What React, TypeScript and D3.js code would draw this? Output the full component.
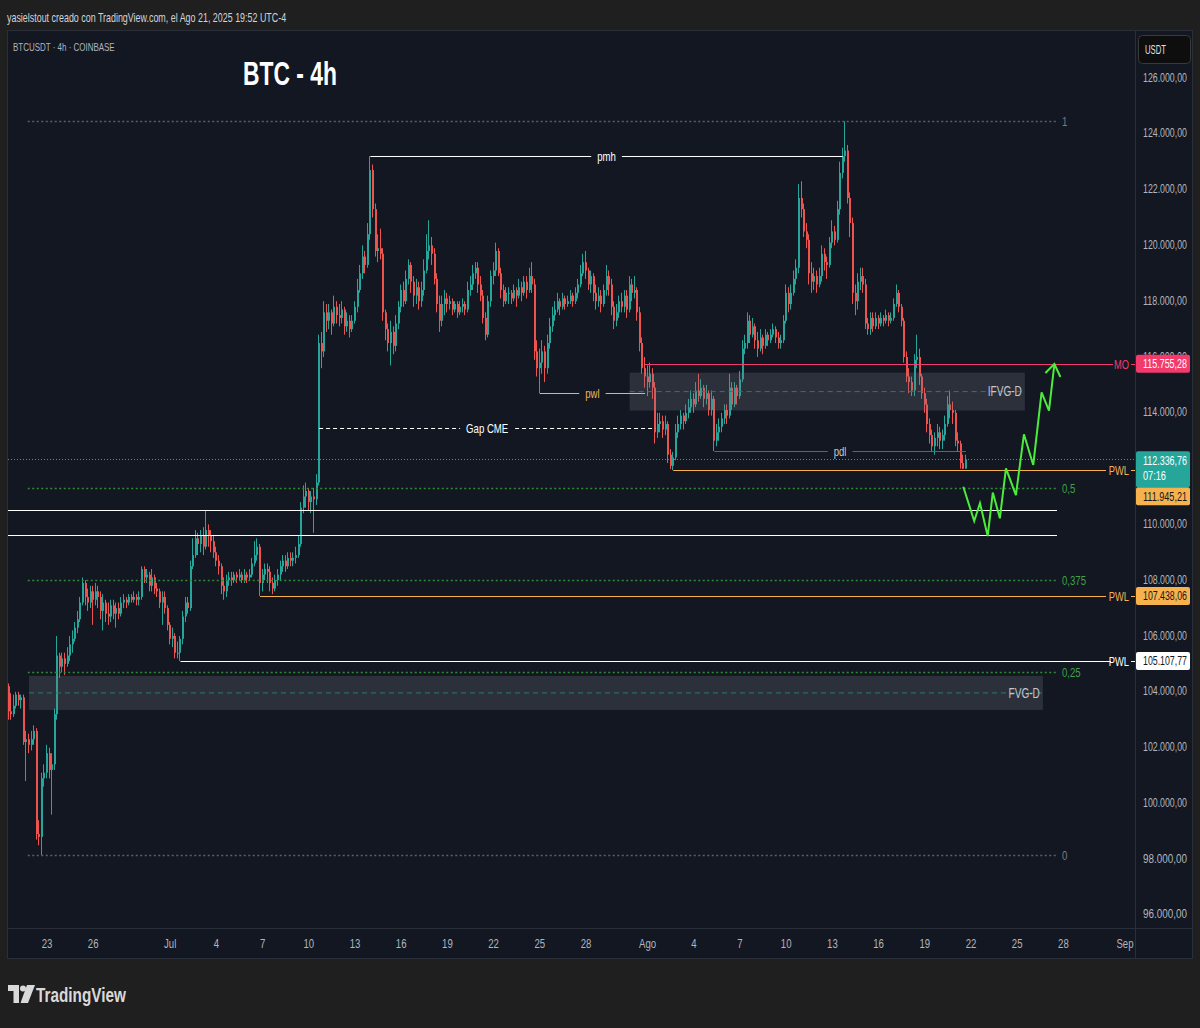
import React from 'react';
import * as d3 from 'd3';

const FONT = "'Liberation Sans', Arial, sans-serif";

// time helper: chart time (UTC-4) stored as UTC dates
const t = (md: string, h = 0) => {
  const [m, d] = md.split('-').map(Number);
  return new Date(Date.UTC(2025, m - 1, d) + h * 3600e3);
};

// 4h candles, in thousands of USDT: [high, low, close]; open = previous close
const firstOpen = 104.2;
const candleDays: [string, number, number[][]][] = [
  ['06-20', 12, [[104.3, 103.0, 103.3], [103.95, 103.0, 103.2], [103.9, 103.1, 103.5]]],
  ['06-21', 0, [[104.0, 103.4, 103.9], [104.0, 103.5, 103.7], [103.9, 103.4, 103.8], [103.9, 102.1, 102.2], [102.6, 100.8, 102.3], [102.5, 101.8, 102.1]]],
  ['06-22', 0, [[102.6, 101.9, 102.3], [102.8, 102.1, 102.6], [102.7, 98.7, 98.9], [99.4, 98.5, 98.8], [101.1, 98.15, 100.9], [101.4, 100.6, 101.1]]],
  ['06-23', 0, [[102.1, 100.9, 101.8], [102.0, 100.9, 101.2], [101.8, 99.6, 101.4], [103.4, 101.2, 103.2], [106.0, 103.0, 105.3], [105.4, 104.5, 104.9]]],
  ['06-24', 0, [[105.4, 104.7, 105.2], [105.4, 104.6, 105.0], [105.6, 104.9, 105.3], [106.0, 105.1, 105.7], [106.2, 105.4, 105.9], [106.5, 105.8, 106.3]]],
  ['06-25', 0, [[106.9, 106.1, 106.6], [107.4, 106.5, 107.2], [108.1, 107.1, 107.9], [108.0, 107.1, 107.4], [107.7, 106.9, 107.2], [107.8, 107.0, 107.6]]],
  ['06-26', 0, [[107.8, 106.4, 107.3], [107.9, 107.1, 107.6], [107.8, 107.0, 107.4], [107.6, 106.6, 106.9], [107.5, 106.2, 107.2], [107.3, 106.5, 106.8]]],
  ['06-27', 0, [[107.2, 106.4, 106.7], [107.3, 106.5, 107.1], [107.3, 106.6, 106.8], [107.2, 106.3, 107.0], [107.2, 106.6, 106.8], [107.4, 106.7, 107.2]]],
  ['06-28', 0, [[107.5, 107.0, 107.3], [107.4, 107.0, 107.2], [107.5, 107.1, 107.4], [107.5, 107.2, 107.3], [107.6, 107.2, 107.4], [107.5, 107.1, 107.3]]],
  ['06-29', 0, [[107.6, 107.1, 107.4], [108.5, 107.3, 108.4], [108.5, 107.9, 108.1], [108.4, 107.9, 108.2], [108.3, 107.6, 107.8], [108.4, 107.6, 108.1]]],
  ['06-30', 0, [[108.2, 107.5, 107.7], [107.9, 107.4, 107.6], [107.7, 107.0, 107.2], [107.6, 106.4, 107.4], [107.6, 106.8, 107.0], [107.1, 106.2, 106.4]]],
  ['07-01', 0, [[106.5, 105.7, 105.9], [106.3, 105.6, 106.0], [106.1, 105.2, 105.4], [105.8, 105.2, 105.4], [106.0, 105.108, 105.9], [106.9, 105.7, 106.7]]],
  ['07-02', 0, [[107.4, 106.5, 107.2], [107.4, 106.8, 107.0], [108.7, 106.9, 108.5], [109.5, 108.4, 108.9], [109.8, 108.8, 109.5], [109.7, 108.9, 109.3]]],
  ['07-03', 0, [[109.8, 109.0, 109.6], [109.9, 108.9, 109.2], [110.5, 109.1, 109.8], [110.0, 109.2, 109.6], [109.8, 109.0, 109.4], [109.6, 108.8, 109.0]]],
  ['07-04', 0, [[109.2, 108.5, 108.7], [108.9, 108.2, 108.5], [108.6, 107.5, 107.8], [108.1, 107.3, 107.6], [108.2, 107.4, 108.0], [108.3, 107.8, 108.1]]],
  ['07-05', 0, [[108.3, 107.8, 108.0], [108.3, 107.9, 108.2], [108.3, 107.9, 108.1], [108.4, 108.0, 108.2], [108.3, 107.9, 108.0], [108.4, 107.9, 108.2]]],
  ['07-06', 0, [[108.3, 107.9, 108.1], [108.4, 108.0, 108.2], [108.8, 108.1, 108.6], [109.4, 108.5, 108.9], [109.5, 108.7, 109.2], [109.3, 107.44, 107.9]]],
  ['07-07', 0, [[108.4, 107.6, 108.2], [108.6, 108.0, 108.4], [108.6, 107.9, 108.3], [108.5, 107.6, 107.9], [108.1, 107.5, 107.7], [108.2, 107.6, 108.0]]],
  ['07-08', 0, [[108.4, 107.8, 108.2], [108.7, 108.0, 108.5], [108.9, 108.3, 108.7], [108.9, 108.3, 108.5], [109.0, 108.4, 108.8], [109.0, 108.5, 108.7]]],
  ['07-09', 0, [[109.0, 108.5, 108.8], [109.2, 108.6, 108.9], [109.6, 108.8, 109.3], [110.8, 109.2, 110.6], [111.4, 110.4, 111.0], [111.5, 110.6, 111.2]]],
  ['07-10', 0, [[111.3, 110.5, 110.8], [111.2, 110.4, 111.0], [111.3, 109.7, 110.9], [111.8, 110.7, 111.5], [116.8, 111.4, 116.5], [116.9, 115.6, 116.2]]],
  ['07-11', 0, [[118.0, 116.0, 117.6], [117.9, 116.9, 117.3], [117.9, 117.0, 117.6], [117.7, 116.8, 117.2], [118.2, 117.1, 117.8], [118.0, 117.2, 117.5]]],
  ['07-12', 0, [[117.9, 117.1, 117.4], [118.0, 117.2, 117.7], [117.8, 116.8, 117.1], [117.6, 116.9, 117.3], [117.5, 116.7, 117.0], [117.5, 116.9, 117.3]]],
  ['07-13', 0, [[118.0, 117.2, 117.8], [118.8, 117.6, 118.4], [119.3, 118.3, 119.0], [120.0, 118.8, 119.6], [119.8, 119.0, 119.3], [120.8, 119.2, 120.4]]],
  ['07-14', 0, [[123.2, 120.2, 122.7], [122.9, 121.0, 121.3], [121.5, 119.6, 119.8], [120.4, 119.4, 119.9], [120.6, 119.5, 119.7], [119.9, 117.3, 117.6]]],
  ['07-15', 0, [[117.7, 116.6, 117.0], [117.2, 116.2, 116.5], [117.3, 115.7, 116.9], [117.1, 116.1, 116.4], [117.5, 116.2, 117.2], [118.0, 117.0, 117.8]]],
  ['07-16', 0, [[118.6, 117.6, 118.4], [118.7, 117.8, 118.0], [119.1, 117.9, 118.8], [119.5, 118.6, 119.3], [119.4, 118.3, 118.7], [118.9, 117.8, 118.2]]],
  ['07-17', 0, [[118.8, 117.9, 118.5], [118.7, 117.7, 118.0], [118.7, 117.8, 118.4], [119.5, 118.2, 119.1], [120.4, 119.0, 119.8], [120.9, 119.5, 120.0]]],
  ['07-18', 0, [[120.3, 119.3, 119.7], [119.9, 118.6, 118.8], [119.0, 117.6, 117.9], [118.2, 116.9, 117.3], [118.2, 117.1, 117.9], [118.4, 117.5, 118.1]]],
  ['07-19', 0, [[118.3, 117.6, 117.9], [118.2, 117.7, 118.0], [118.1, 117.5, 117.7], [118.0, 117.6, 117.9], [118.0, 117.4, 117.6], [118.0, 117.5, 117.8]]],
  ['07-20', 0, [[118.1, 117.6, 117.9], [118.0, 117.5, 117.7], [118.7, 117.6, 118.4], [118.9, 118.2, 118.6], [119.3, 118.4, 119.0], [119.4, 118.8, 119.2]]],
  ['07-21', 0, [[119.4, 118.3, 118.6], [118.9, 118.0, 118.2], [118.4, 117.2, 117.4], [117.6, 116.6, 116.8], [118.2, 116.7, 118.0], [119.1, 117.8, 118.9]]],
  ['07-22', 0, [[119.4, 118.6, 119.1], [120.1, 118.9, 119.8], [119.9, 118.9, 119.0], [119.2, 118.1, 118.4], [118.6, 117.8, 118.0], [118.5, 117.9, 118.3]]],
  ['07-23', 0, [[118.5, 117.9, 118.3], [118.4, 117.9, 118.1], [118.6, 118.0, 118.4], [118.5, 117.8, 118.2], [118.8, 118.1, 118.5], [118.7, 118.0, 118.3]]],
  ['07-24', 0, [[118.9, 118.2, 118.7], [118.9, 118.1, 118.4], [119.2, 118.3, 118.9], [119.4, 118.3, 118.6], [118.8, 115.9, 116.2], [116.6, 115.3, 115.6]]],
  ['07-25', 0, [[116.3, 114.7, 115.8], [116.6, 115.4, 116.2], [116.4, 115.1, 115.6], [116.8, 115.4, 116.5], [117.4, 116.3, 117.1], [117.8, 116.9, 117.5]]],
  ['07-26', 0, [[118.0, 117.3, 117.7], [118.3, 117.6, 118.0], [118.1, 117.5, 117.8], [118.3, 117.7, 118.1], [118.2, 117.7, 117.9], [118.2, 117.8, 118.0]]],
  ['07-27', 0, [[118.4, 117.9, 118.2], [118.3, 117.8, 118.0], [118.5, 117.9, 118.3], [118.8, 118.1, 118.6], [119.3, 118.5, 119.0], [119.7, 118.9, 119.4]]],
  ['07-28', 0, [[119.8, 118.8, 119.1], [119.2, 118.4, 118.6], [119.1, 118.3, 118.9], [119.0, 118.0, 118.3], [118.6, 117.7, 118.0], [118.5, 117.8, 118.2]]],
  ['07-29', 0, [[118.4, 117.6, 117.9], [118.6, 117.8, 118.4], [119.3, 118.2, 118.9], [119.1, 118.2, 118.6], [118.8, 117.5, 117.8], [118.0, 117.0, 117.3]]],
  ['07-30', 0, [[117.9, 117.1, 117.6], [118.2, 117.4, 118.0], [118.3, 117.6, 117.8], [118.4, 117.6, 118.2], [118.4, 117.4, 117.7], [118.9, 117.6, 118.6]]],
  ['07-31', 0, [[118.8, 118.0, 118.3], [118.9, 118.1, 118.4], [118.5, 117.3, 117.6], [117.8, 116.2, 116.5], [116.7, 115.4, 115.6], [116.0, 114.9, 115.3]]],
  ['08-01', 0, [[115.7, 114.6, 115.1], [115.8, 114.9, 115.4], [115.6, 114.5, 114.9], [115.1, 112.9, 113.3], [114.0, 113.1, 113.6], [114.0, 113.3, 113.7]]],
  ['08-02', 0, [[113.9, 113.1, 113.4], [113.9, 113.2, 113.6], [113.7, 112.2, 112.5], [112.7, 111.98, 112.1], [112.6, 111.945, 112.4], [113.6, 112.3, 113.3]]],
  ['08-03', 0, [[113.9, 113.1, 113.6], [114.1, 113.4, 113.9], [114.0, 113.4, 113.7], [114.3, 113.6, 114.0], [114.5, 113.8, 114.2], [114.8, 114.0, 114.5]]],
  ['08-04', 0, [[114.7, 114.0, 114.3], [115.1, 114.2, 114.8], [115.4, 114.4, 114.6], [115.2, 114.5, 114.9], [115.0, 114.2, 114.5], [115.0, 114.3, 114.7]]],
  ['08-05', 0, [[114.8, 113.9, 114.1], [114.8, 113.9, 114.5], [114.6, 112.63, 113.0], [113.6, 112.8, 113.3], [113.8, 113.0, 113.5], [114.0, 113.3, 113.8]]],
  ['08-06', 0, [[114.3, 113.6, 114.1], [114.3, 113.6, 113.9], [115.4, 113.8, 114.9], [115.1, 114.1, 114.3], [115.1, 114.2, 114.9], [115.0, 114.3, 114.6]]],
  ['08-07', 0, [[115.5, 114.5, 115.2], [116.6, 115.1, 116.3], [116.8, 116.1, 116.5], [117.6, 116.3, 117.3], [117.5, 116.5, 116.8], [117.4, 116.7, 117.1]]],
  ['08-08', 0, [[117.2, 116.3, 116.6], [116.9, 116.0, 116.3], [117.0, 116.2, 116.7], [116.8, 116.1, 116.4], [117.0, 116.3, 116.8], [116.9, 116.4, 116.6]]],
  ['08-09', 0, [[117.0, 116.5, 116.8], [117.2, 116.7, 117.0], [117.1, 116.5, 116.7], [116.9, 116.3, 116.5], [116.8, 116.3, 116.6], [117.5, 116.5, 117.3]]],
  ['08-10', 0, [[118.6, 117.2, 118.3], [118.5, 117.6, 117.9], [118.6, 117.7, 118.3], [119.1, 118.2, 118.8], [119.5, 118.6, 119.2], [122.2, 119.0, 121.7]]],
  ['08-11', 0, [[122.3, 121.0, 121.3], [121.5, 120.3, 120.5], [120.8, 119.9, 120.2], [120.4, 118.6, 119.0], [119.4, 118.3, 118.7], [119.2, 118.4, 118.9]]],
  ['08-12', 0, [[119.1, 118.3, 118.6], [119.2, 118.5, 118.9], [120.0, 118.7, 119.7], [119.9, 119.1, 119.4], [119.6, 118.8, 119.3], [120.3, 119.2, 120.1]]],
  ['08-13', 0, [[120.9, 119.9, 120.5], [120.7, 120.0, 120.2], [121.6, 120.1, 121.3], [123.0, 121.1, 122.6], [123.5, 122.4, 123.2], [124.45, 123.0, 123.4]]],
  ['08-14', 0, [[123.6, 121.5, 121.7], [121.9, 120.3, 120.8], [121.0, 117.9, 118.3], [118.6, 117.5, 118.0], [119.0, 117.7, 118.7], [119.2, 118.4, 118.9]]],
  ['08-15', 0, [[119.2, 118.3, 118.6], [118.8, 117.0, 117.2], [117.4, 116.8, 117.0], [117.6, 116.8, 117.4], [117.6, 116.9, 117.1], [117.6, 117.0, 117.4]]],
  ['08-16', 0, [[117.5, 117.0, 117.2], [117.6, 117.1, 117.4], [117.5, 117.1, 117.3], [117.7, 117.2, 117.5], [117.6, 117.1, 117.3], [117.6, 117.2, 117.4]]],
  ['08-17', 0, [[118.1, 117.3, 117.9], [118.6, 117.8, 118.3], [118.4, 117.6, 117.8], [117.9, 117.1, 117.3], [117.4, 115.8, 116.0], [116.2, 115.1, 115.3]]],
  ['08-18', 0, [[115.6, 114.7, 115.1], [115.3, 114.6, 114.8], [116.1, 114.6, 115.9], [116.8, 115.6, 116.0], [116.3, 115.0, 115.3], [115.4, 114.5, 114.7]]],
  ['08-19', 0, [[114.9, 114.0, 114.3], [114.5, 113.3, 113.6], [113.8, 112.9, 113.2], [113.4, 112.6, 112.8], [113.3, 112.5, 113.1], [113.6, 112.8, 113.3]]],
  ['08-20', 0, [[113.5, 112.7, 113.0], [113.4, 112.7, 113.2], [113.9, 113.0, 113.6], [114.6, 113.5, 114.3], [114.8, 113.8, 114.1], [114.4, 113.6, 114.0]]],
  ['08-21', 0, [[114.1, 112.8, 113.0], [113.3, 112.6, 112.9], [113.0, 112.0, 112.2], [112.5, 111.98, 112.0], [112.5, 112.1, 112.33676]]],
];

const lastPrice = 112.33676;
const countdown = '07:16';

// time axis labels
const timeTicks: [string, string][] = [
  ['06-23', '23'], ['06-26', '26'], ['07-01', 'Jul'], ['07-04', '4'], ['07-07', '7'], ['07-10', '10'],
  ['07-13', '13'], ['07-16', '16'], ['07-19', '19'], ['07-22', '22'], ['07-25', '25'], ['07-28', '28'],
  ['08-01', 'Ago'], ['08-04', '4'], ['08-07', '7'], ['08-10', '10'], ['08-13', '13'], ['08-16', '16'],
  ['08-19', '19'], ['08-22', '22'], ['08-25', '25'], ['08-28', '28'], ['09-01', 'Sep'],
];

// fibonacci retracement (low -> high)
const fibLow = 98.15;
const fibHigh = 124.46;
const fibLevels = [1, 0.5, 0.375, 0.25, 0];
const fibLabels = ['1', '0,5', '0,375', '0,25', '0'];
const fibSpan: [string, number, string, number] = ['06-21', 18, '08-27', 14];

// key levels running to the price axis
const axisLevels = [
  { name: 'MO', price: 115.75528, day: '07-31', hour: 20 },
  { name: 'PWL', price: 111.94521, day: '08-02', hour: 16 },
  { name: 'PWL', price: 107.43806, day: '07-06', hour: 20 },
  { name: 'PWL', price: 105.10777, day: '07-01', hour: 16 },
];

// plain horizontal levels drawn by hand
const handLevels = [110.52, 109.62];
const handLevelEnd: [string, number] = ['08-27', 14];

// labelled segments
const segments = [
  { name: 'pmh', price: 123.2, from: ['07-14', 0], to: ['08-13', 16] },
  { name: 'Gap CME', price: 113.45, from: ['07-10', 16], to: ['08-01', 12] },
  { name: 'pwl', price: 114.7, from: ['07-25', 0], to: ['07-31', 20] },
  { name: 'pdl', price: 112.63, from: ['08-05', 8], to: ['08-21', 16] },
];

// fair value gap zones
const zones = [
  { name: 'IFVG-D', top: 115.44, bottom: 114.08, from: ['07-30', 20], to: ['08-25', 12] },
  { name: 'FVG-D', top: 104.57, bottom: 103.35, from: ['06-21', 20], to: ['08-26', 16] },
];

// projected path: [day, hour, price]
const projection: [string, number, number][] = [
  ['08-21', 12, 111.35], ['08-22', 5, 110.12], ['08-22', 14, 110.76], ['08-23', 2, 109.58],
  ['08-23', 10, 111.14], ['08-23', 21, 110.22], ['08-24', 6.5, 112.01], ['08-24', 22, 111.05],
  ['08-25', 10.5, 113.23], ['08-26', 1, 112.13], ['08-26', 14, 114.73], ['08-27', 1.5, 114.08],
  ['08-27', 10, 115.75],
];

const x = d3.scaleUtc().domain([t('06-23'), t('09-01')]).range([47, 1125]);
const y = d3.scaleLinear().domain([96, 126]).range([915, 78]);

const esLocale = d3.formatLocale({ decimal: ',', thousands: '.', grouping: [3], currency: ['', ''] });
const fmtPrice = (v: number) => esLocale.format(',.2f')(v * 1000);

const UP = '#26a69a';
const DOWN = '#ef5350';
const PANEL = '#131722';
const AXIS_TEXT = '#b2b5be';
const ORANGE = '#f7b24d';
const PINK = '#f23b6c';
const GREEN = '#43a047';

const plot = { l: 8, r: 1135, t: 32, b: 928 };

type Bar = { t: Date; o: number; h: number; l: number; c: number };
const bars: Bar[] = [];
{
  let prev = firstOpen;
  candleDays.forEach(([day, startHour, rows]) => {
    rows.forEach(([h, l, c], i) => {
      bars.push({ t: t(day, startHour + 4 * i), o: prev, h: Math.max(h, prev, c), l: Math.min(l, prev, c), c });
      prev = c;
    });
  });
}

const levelColor: Record<string, string> = { MO: PINK, PWL: ORANGE };

// narrow text: the chart's font is condensed, so squeeze Liberation Sans horizontally
const ctx = document.createElement('canvas').getContext('2d');
const measure = (s: string, size: number, weight = 'normal') => {
  if (!ctx) return s.length * size * 0.5;
  ctx.font = `${weight} ${size}px 'Liberation Sans', Arial, sans-serif`;
  return ctx.measureText(s).width;
};

type NProps = Omit<React.SVGProps<SVGTextElement>, 'x' | 'y'> & {
  s: string; size: number; k?: number; w?: number; weight?: string; x?: number; y?: number;
};
const N = ({ s, size, k = 0.8, w, weight = 'normal', x: tx = 0, y: ty = 0, ...rest }: NProps) => {
  const sx = w ? w / measure(s, size, weight) : k;
  return (
    <text transform={`translate(${tx},${ty}) scale(${sx},1)`} fontSize={size} fontWeight={weight} {...rest}>
      {s}
    </text>
  );
};

export default function App() {
  const fibX1 = x(t(fibSpan[0], fibSpan[1]));
  const fibX2 = x(t(fibSpan[2], fibSpan[3]));
  const handX2 = x(t(handLevelEnd[0], handLevelEnd[1]));
  const projLine = d3.line<[string, number, number]>()
    .x((d) => x(t(d[0], d[1])))
    .y((d) => y(d[2]));
  const tip = projection[projection.length - 1];
  const tipX = x(t(tip[0], tip[1]));
  const tipY = y(tip[2]);
  const lastY = y(lastPrice);
  const priceTicks = y.ticks(15).filter((v) => Math.abs(y(v) - (lastY + 10)) > 20);

  return (
    <div style={{ position: 'absolute', left: 0, top: 0 }}>
      <svg width={1200} height={1028} style={{ display: 'block' }} fontFamily={FONT}>
        <defs>
          <clipPath id="plotClip">
            <rect x={plot.l} y={plot.t} width={plot.r - plot.l} height={plot.b - plot.t} />
          </clipPath>
        </defs>
        <rect width={1200} height={1028} fill="#1f1f1f" />
        <N s="yasielstout creado con TradingView.com, el Ago 21, 2025 19:52 UTC-4" size={12} w={280} x={7} y={17} fill="#d1d4dc" dominantBaseline="central" />

        {/* panel */}
        <rect x={7.5} y={30.5} width={1185} height={928} fill={PANEL} stroke="#2a2e39" />
        <line x1={1135.5} x2={1135.5} y1={31} y2={958} stroke="#2a2e39" />
        <line x1={8} x2={1192} y1={928.5} y2={928.5} stroke="#2a2e39" />

        <g clipPath="url(#plotClip)">
          {/* candles */}
          {bars.map((b, i) => {
            const cx = Math.round(x(b.t));
            const col = b.c >= b.o ? UP : DOWN;
            const yo = y(b.o), yc = y(b.c);
            const top = Math.min(yo, yc);
            const hgt = Math.max(1, Math.abs(yo - yc));
            return (
              <g key={i} fill={col}>
                <rect x={cx - 1} y={y(b.h)} width={1} height={y(b.l) - y(b.h)} />
                <rect x={cx - 1} y={top} width={2} height={hgt} />
              </g>
            );
          })}

          {/* zones */}
          {zones.map((z) => {
            const x1 = x(t(z.from[0] as string, z.from[1] as number));
            const x2 = x(t(z.to[0] as string, z.to[1] as number));
            const mid = (z.top + z.bottom) / 2;
            return (
              <g key={z.name}>
                <rect x={x1} y={y(z.top)} width={x2 - x1} height={y(z.bottom) - y(z.top)} fill="rgba(120,123,134,0.25)" />
                <line x1={x1} x2={x2} y1={y(mid)} y2={y(mid)} stroke="#2b7a6e" strokeDasharray="5 4" />
                <N s={z.name} size={14} k={0.72} x={x2 - 3} y={y(mid)} fill="#c3c6ce" textAnchor="end" dominantBaseline="central" />
              </g>
            );
          })}

          {/* fib levels */}
          {fibLevels.map((lv, i) => {
            const py = Math.round(y(fibLow + lv * (fibHigh - fibLow))) + 0.5;
            const grey = lv === 0 || lv === 1;
            return (
              <g key={lv}>
                <line x1={fibX1} x2={fibX2} y1={py} y2={py} stroke={grey ? '#5d606b' : '#2e8b36'} strokeWidth={1.5} strokeDasharray="2 2.5" />
                <N s={fibLabels[i]} size={12} x={fibX2 + 5} y={py} fill={grey ? '#787b86' : GREEN} dominantBaseline="central" />
              </g>
            );
          })}

          {/* hand drawn white levels */}
          {handLevels.map((p) => (
            <line key={p} x1={plot.l} x2={handX2} y1={Math.round(y(p)) + 0.5} y2={Math.round(y(p)) + 0.5} stroke="#ffffff" />
          ))}

          {/* current price line */}
          <line x1={plot.l} x2={plot.r} y1={Math.round(lastY) + 0.5} y2={Math.round(lastY) + 0.5} stroke={UP} strokeDasharray="1 2" />

          {/* key levels to the axis */}
          {axisLevels.map((lv, i) => {
            const py = Math.round(y(lv.price)) + 0.5;
            const col = i === 3 ? '#ffffff' : levelColor[lv.name];
            const x1 = x(t(lv.day, lv.hour));
            const lineEnd = i === 3 ? 1111 : lv.name === 'MO' ? 1113 : 1106;
            return (
              <g key={i}>
                <line x1={x1} x2={lineEnd} y1={py} y2={py} stroke={col} strokeWidth={i === 3 ? 1.2 : 1} />
                <N s={lv.name} size={13} k={0.72} x={1129} y={py} fill={col} textAnchor="end" dominantBaseline="central" />
                <line x1={1131} x2={1135} y1={py} y2={py} stroke={col} />
              </g>
            );
          })}

          {/* labelled segments */}
          {segments.map((s) => {
            const x1 = x(t(s.from[0] as string, s.from[1] as number));
            const x2 = x(t(s.to[0] as string, s.to[1] as number));
            const py = Math.round(y(s.price)) + 0.5;
            const col = s.name === 'pwl' ? ORANGE : s.name === 'pdl' ? '#3d62d6' : '#ffffff';
            const txt = s.name === 'pwl' ? ORANGE : s.name === 'pdl' ? '#c3c6ce' : '#ffffff';
            const mx = (x1 + x2) / 2;
            const w = measure(s.name, 12) * 0.8 + 12;
            return (
              <g key={s.name}>
                <line x1={x1} x2={x2} y1={py} y2={py} stroke={col} strokeDasharray={s.name === 'Gap CME' ? '4 3' : undefined} />
                <rect x={mx - w / 2} y={py - 7} width={w} height={14} fill={PANEL} />
                <N s={s.name} size={12} x={mx} y={py} fill={txt} textAnchor="middle" dominantBaseline="central" />
              </g>
            );
          })}

          {/* projection */}
          <path d={projLine(projection) ?? ''} fill="none" stroke="#4cec3c" strokeWidth={2} strokeLinejoin="miter" />
          <path d={`M${tipX - 9},${tipY + 9} L${tipX},${tipY} L${tipX + 6},${tipY + 13}`} fill="none" stroke="#4cec3c" strokeWidth={2} />
        </g>

        {/* legend and title */}
        <N s="BTCUSDT · 4h · COINBASE" size={11} w={102} x={13} y={47} fill={AXIS_TEXT} dominantBaseline="central" />
        <N s="BTC - 4h" size={33} weight="bold" w={94} x={243} y={85} fill="#ffffff" />

        {/* price axis */}
        {priceTicks.map((v) => (
          <N key={v} s={fmtPrice(v)} size={12} w={44} x={1143} y={y(v) - 1} fill={AXIS_TEXT} dominantBaseline="central" />
        ))}
        <rect x={1138.5} y={35.5} width={52} height={28} rx={4} fill="#0e0e0e" stroke="#3a3a3a" />
        <N s="USDT" size={12} w={21} x={1145} y={50} fill="#e0e0e0" dominantBaseline="central" />

        {/* axis price tags */}
        {axisLevels.map((lv, i) => {
          const py = y(lv.price);
          let top = py - 9;
          if (i === 1) top = Math.max(top, lastY - 8 + 36);
          const fill = i === 0 ? PINK : i === 3 ? '#ffffff' : ORANGE;
          const tc = i === 0 ? '#ffffff' : '#131722';
          return (
            <g key={i}>
              <rect x={1136} y={top} width={54} height={18} rx={2} fill={fill} />
              <N s={fmtPrice(lv.price)} size={12} w={44} x={1143} y={top + 9} fill={tc} dominantBaseline="central" />
            </g>
          );
        })}
        <rect x={1136} y={lastY - 8} width={54} height={36} rx={2} fill={UP} />
        <N s={fmtPrice(lastPrice)} size={12} w={44} x={1143} y={lastY + 1} fill="#ffffff" dominantBaseline="central" />
        <N s={countdown} size={12} w={23} x={1143} y={lastY + 16} fill="#ffffff" dominantBaseline="central" />

        {/* time axis */}
        {timeTicks.map(([d, lab]) => (
          <N key={d} s={lab} size={12} x={x(t(d))} y={944} fill={AXIS_TEXT} textAnchor="middle" dominantBaseline="central" />
        ))}

        {/* TradingView logo */}
        <g fill="#d9d9d9">
          <path d="M8,985 H19 V1003 H13.5 V991 H8 Z" />
          <circle cx={23} cy={988.5} r={3} />
          <path d="M27,985 H35 L28,1003 H20.5 Z" />
        </g>
        <N s="TradingView" size={20} weight="bold" w={90} x={36} y={995} fill="#d9d9d9" dominantBaseline="central" />
      </svg>
    </div>
  );
}
